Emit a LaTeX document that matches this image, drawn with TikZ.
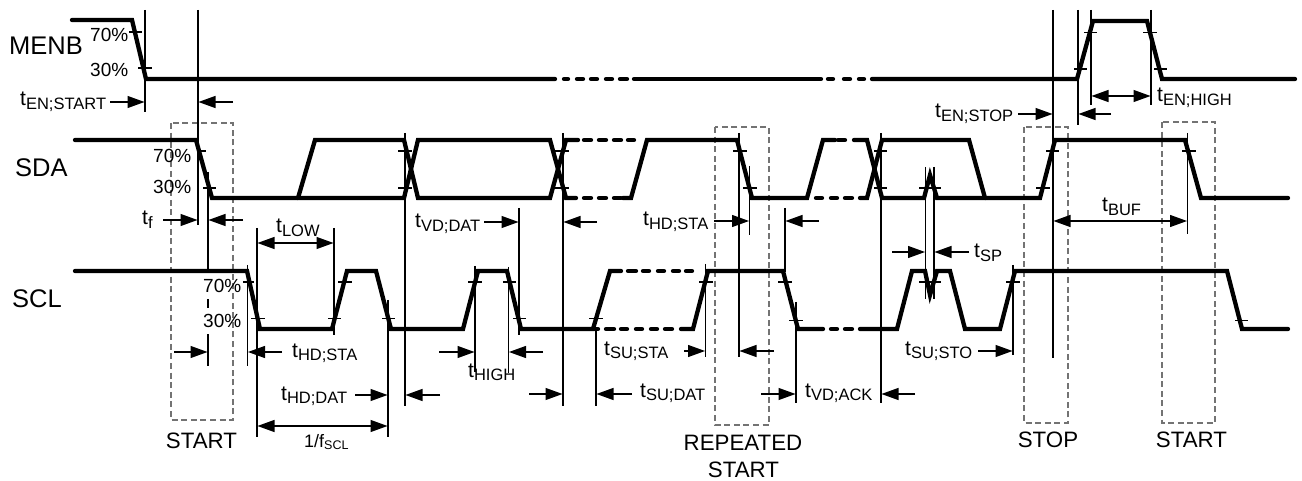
\documentclass[tikz,border=0pt]{standalone}
\usepackage{fontspec}
\setmainfont{Liberation Sans}
\usetikzlibrary{arrows.meta}
\newcommand{\tsub}[2]{{\fontsize{21}{21}\selectfont #1\raisebox{-3.5pt}{\fontsize{16.5}{16.5}\selectfont #2}}}
\newcommand{\fsub}[2]{{\fontsize{18}{18}\selectfont #1\raisebox{-2.5pt}{\fontsize{12.5}{12.5}\selectfont #2}}}
\tikzset{
  sigline/.style={line width=4.3pt,line join=miter,line cap=round},
  thinline/.style={line width=1.25pt,line cap=butt},
  lvltick/.style={line width=1.1pt},
  boxd/.style={draw=black!55,line width=1.3pt,dash pattern=on 6pt off 3.6pt},
  dimarrow/.style={line width=1.25pt,-{Triangle[length=17pt,width=12pt]}},
  ddimarrow/.style={line width=1.25pt,{Triangle[length=17pt,width=12pt]}-{Triangle[length=17pt,width=12pt]}},
  lab/.style={inner sep=0pt,anchor=base west},
  sname/.style={inner sep=0pt,anchor=base west,font=\fontsize{25.5}{25.5}\selectfont},
  pct/.style={inner sep=0pt,anchor=base west,font=\fontsize{19}{19}\selectfont},
  captxt/.style={inner sep=0pt,anchor=base,font=\fontsize{22.3}{22.3}\selectfont},
}
\begin{document}
\begin{tikzpicture}[x=1pt,y=-1pt]
\useasboundingbox (0,0) rectangle (1302,481);
% dashed boxes
\draw[boxd] (171,123) rectangle (233,420);
\draw[boxd] (715,127) rectangle (769,425);
\draw[boxd] (1024,127) rectangle (1068,423);
\draw[boxd] (1162,122) rectangle (1215,423);
% MENB
\draw[sigline] (72,20) -- (132,20) -- (146,79) -- (555,79);
\draw[sigline] (634,79) -- (821,79);
\draw[sigline] (872,79) -- (1077,79) -- (1093,21) -- (1147,21) -- (1162,79) -- (1295,79);
\foreach \a/\b in {564/568,577/583,591/597,606/612,620/627,828/833,844/850,859/864}
  \draw[sigline] (\a,79) -- (\b,79);
% SDA
\draw[sigline] (75,140) -- (196,140) -- (212,198) -- (404,198) -- (418,140) -- (550,140) -- (566,198) -- (576,198);
\draw[sigline] (298,198) -- (315,140) -- (404,140) -- (418,198) -- (550,198) -- (566,140) -- (578,140);
\draw[sigline] (623,198) -- (631,198) -- (647,140) -- (737,140) -- (752,198) -- (807,198) -- (823,140) -- (835,140);
\draw[sigline] (854,140) -- (867,140) -- (882,198) -- (924,198) -- (930,175) -- (937,198) -- (1040,198) -- (1055,140) -- (1185,140) -- (1201,198) -- (1288,198);
\draw[sigline] (860,198) -- (867,198) -- (882,140) -- (969,140) -- (985,198);
\foreach \a/\b in {584/591,599/606,614/621,628/634,838/845}
  \draw[sigline] (\a,140) -- (\b,140);
\foreach \a/\b in {584/591,599/606,614/621,816/822,831/837,845/852}
  \draw[sigline] (\a,198) -- (\b,198);
% SCL
\draw[sigline] (75,271) -- (247,271) -- (260,329) -- (332,329) -- (347,271) -- (376,271) -- (391,329) -- (463,329) -- (478,271) -- (507,271) -- (521,329) -- (593,329) -- (610,271) -- (621,271);
\draw[sigline] (593,329) -- (598,329);
\draw[sigline] (681,329) -- (693,329) -- (708,271) -- (783,271) -- (798,329) -- (823,329);
\draw[sigline] (860,329) -- (897,329) -- (912,271) -- (925,271) -- (930,295) -- (937,271) -- (950,271) -- (965,329) -- (1000,329) -- (1015,271) -- (1227,271) -- (1242,329) -- (1288,329);
\foreach \a/\b in {628/636,643/649,658/664,673/679,686/692}
  \draw[sigline] (\a,271) -- (\b,271);
\foreach \a/\b in {606/614,621/627,636/642,651/657,665/672,831/837,845/852}
  \draw[sigline] (\a,329) -- (\b,329);
% level ticks
\foreach \a/\b/\y in {129/142/32,138/152/68,197/206/151,203/216/188,243/254/282,251/265/318.5,338/352/282,328/341/318.5,382/395/318.5,
  398/412/151,398/412/188,468/482/282,503/516/282,513/526/318.5,555/569/151,555/569/188,589/603/318.5,699/713/282,
  733/747/151,743/757/188,778/792/282,789/803/320.5,874/887/151,874/887/188,919/941/188,919/941/282,
  1006/1020/282,1036/1050/188,1046/1059/151,1074/1087/69,1084/1097/32.5,1143/1157/32.5,1154/1167/69,1182/1196/151,1235/1248/320.5}
  \draw[lvltick] (\a,\y) -- (\b,\y);
% vertical reference lines
\foreach \x/\p/\q in {145/10/112,198/10/225,208/172/271,208/299/308,208/334/366,247.5/265/366,257/228/437,334/228/335,388/300/437,
  405/133/405.7,475/266/372,508.5/267/372.5,519/208/335,563/133/405.7,596/328/405.7,705.5/264/357,739/133/357,749.5/166/235,
  785/208/272,796/302/403,881/133/403,925.7/167/299,934/167/299,1013/265/355,1053/10/358,1078/10/125,1091/10/105,1151/10/105,1187.6/133/234}
  \draw[thinline] (\x,\p) -- (\x,\q);
% dimension arrows
\foreach \a/\b/\y in {110/144.5/102,233/198.5/102,163/197.5/220,243/208.5/220,174/207.5/352,282/248/352,355/387.5/395,440/405.5/395,
  439/474.5/352,543/509/352,484/518.5/222,597/563.5/222,529/562.5/394,632/596.5/394,684/705/351,774/739.5/351,714/749/221,819/785.5/221,
  761/795.5/394,915/881.5/394,892/925/252,969/934.5/252,978/1012.5/351,1018/1052.5/114,1111/1078.5/114}
  \draw[dimarrow] (\a,\y) -- (\b,\y);
\draw[ddimarrow] (257.5,243) -- (333.5,243);
\draw[ddimarrow] (257.5,426) -- (387.5,426);
\draw[ddimarrow] (1091.5,96) -- (1150.5,96);
\draw[ddimarrow] (1053.5,221) -- (1187,221);
% signal names
\node[sname] (menb) at (9,55) {MENB};
\node[sname] (sda) at (15,177) {SDA};
\node[sname] (scl) at (12,308) {SCL};
% percentages
\node[pct] (m70) at (90,42) {70\%};
\node[pct] (m30) at (90,77) {30\%};
\node[pct] (d70) at (153,163) {70\%};
\node[pct] (d30) at (153,194) {30\%};
\node[pct] (c70) at (203,293) {70\%};
\node[pct] (c30) at (203,327) {30\%};
% timing labels
\node[lab] (l1) at (20,106) {\tsub{t}{EN;START}};
\node[lab] (l2) at (142,225) {\tsub{t}{f}};
\node[lab] (l3) at (276,233) {\tsub{t}{LOW}};
\node[lab] (l4) at (415,228) {\tsub{t}{VD;DAT}};
\node[lab] (l5) at (292,357) {\tsub{t}{HD;STA}};
\node[lab] (l6) at (281,400) {\tsub{t}{HD;DAT}};
\node[lab] (l7) at (304,447) {\fsub{1/f}{SCL}};
\node[lab] (l8) at (468,377) {\tsub{t}{HIGH}};
\node[lab] (l9) at (604,355) {\tsub{t}{SU;STA}};
\node[lab] (l10) at (640,397) {\tsub{t}{SU;DAT}};
\node[lab] (l11) at (805,397) {\tsub{t}{VD;ACK}};
\node[lab] (l12) at (643,226) {\tsub{t}{HD;STA}};
\node[lab] (l13) at (905,355) {\tsub{t}{SU;STO}};
\node[lab] (l14) at (974,258) {\tsub{t}{SP}};
\node[lab] (l15) at (1157,102) {\tsub{t}{EN;HIGH}};
\node[lab] (l16) at (935,118) {\tsub{t}{EN;STOP}};
\node[lab] (l17) at (1102,212) {\tsub{t}{BUF}};
% captions
\node[captxt] (s1) at (201.5,448) {START};
\node[captxt] (r1) at (743,450) {REPEATED};
\node[captxt] (r2) at (743.5,477) {START};
\node[captxt] (s2) at (1048,447) {STOP};
\node[captxt] (s3) at (1191.5,447) {START};
\end{tikzpicture}
\end{document}
